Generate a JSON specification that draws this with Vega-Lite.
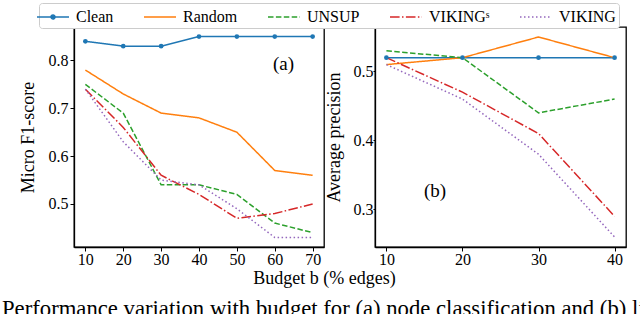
{
  "$schema": "https://vega.github.io/schema/vega-lite/v6.json",
  "padding": {"left": 2, "top": 2, "right": 0, "bottom": 0},
  "datasets": {
    "perf": [
      {"panel": "a", "b": 10, "method": "Clean", "v": 0.84},
      {"panel": "a", "b": 20, "method": "Clean", "v": 0.83},
      {"panel": "a", "b": 30, "method": "Clean", "v": 0.83},
      {"panel": "a", "b": 40, "method": "Clean", "v": 0.85},
      {"panel": "a", "b": 50, "method": "Clean", "v": 0.85},
      {"panel": "a", "b": 60, "method": "Clean", "v": 0.85},
      {"panel": "a", "b": 70, "method": "Clean", "v": 0.85},
      {"panel": "a", "b": 10, "method": "Random", "v": 0.78},
      {"panel": "a", "b": 20, "method": "Random", "v": 0.73},
      {"panel": "a", "b": 30, "method": "Random", "v": 0.69},
      {"panel": "a", "b": 40, "method": "Random", "v": 0.68},
      {"panel": "a", "b": 50, "method": "Random", "v": 0.65},
      {"panel": "a", "b": 60, "method": "Random", "v": 0.57},
      {"panel": "a", "b": 70, "method": "Random", "v": 0.56},
      {"panel": "a", "b": 10, "method": "UNSUP", "v": 0.75},
      {"panel": "a", "b": 20, "method": "UNSUP", "v": 0.69},
      {"panel": "a", "b": 30, "method": "UNSUP", "v": 0.54},
      {"panel": "a", "b": 40, "method": "UNSUP", "v": 0.54},
      {"panel": "a", "b": 50, "method": "UNSUP", "v": 0.52},
      {"panel": "a", "b": 60, "method": "UNSUP", "v": 0.46},
      {"panel": "a", "b": 70, "method": "UNSUP", "v": 0.44},
      {"panel": "a", "b": 10, "method": "VIKINGˢ", "v": 0.74},
      {"panel": "a", "b": 20, "method": "VIKINGˢ", "v": 0.66},
      {"panel": "a", "b": 30, "method": "VIKINGˢ", "v": 0.56},
      {"panel": "a", "b": 40, "method": "VIKINGˢ", "v": 0.52},
      {"panel": "a", "b": 50, "method": "VIKINGˢ", "v": 0.47},
      {"panel": "a", "b": 60, "method": "VIKINGˢ", "v": 0.48},
      {"panel": "a", "b": 70, "method": "VIKINGˢ", "v": 0.50},
      {"panel": "a", "b": 10, "method": "VIKING", "v": 0.74},
      {"panel": "a", "b": 20, "method": "VIKING", "v": 0.63},
      {"panel": "a", "b": 30, "method": "VIKING", "v": 0.55},
      {"panel": "a", "b": 40, "method": "VIKING", "v": 0.54},
      {"panel": "a", "b": 50, "method": "VIKING", "v": 0.49},
      {"panel": "a", "b": 60, "method": "VIKING", "v": 0.43},
      {"panel": "a", "b": 70, "method": "VIKING", "v": 0.43},
      {"panel": "b", "b": 10, "method": "Clean", "v": 0.52},
      {"panel": "b", "b": 20, "method": "Clean", "v": 0.52},
      {"panel": "b", "b": 30, "method": "Clean", "v": 0.52},
      {"panel": "b", "b": 40, "method": "Clean", "v": 0.52},
      {"panel": "b", "b": 10, "method": "Random", "v": 0.51},
      {"panel": "b", "b": 20, "method": "Random", "v": 0.52},
      {"panel": "b", "b": 30, "method": "Random", "v": 0.55},
      {"panel": "b", "b": 40, "method": "Random", "v": 0.52},
      {"panel": "b", "b": 10, "method": "UNSUP", "v": 0.53},
      {"panel": "b", "b": 20, "method": "UNSUP", "v": 0.52},
      {"panel": "b", "b": 30, "method": "UNSUP", "v": 0.44},
      {"panel": "b", "b": 40, "method": "UNSUP", "v": 0.46},
      {"panel": "b", "b": 10, "method": "VIKINGˢ", "v": 0.52},
      {"panel": "b", "b": 20, "method": "VIKINGˢ", "v": 0.47},
      {"panel": "b", "b": 30, "method": "VIKINGˢ", "v": 0.41},
      {"panel": "b", "b": 40, "method": "VIKINGˢ", "v": 0.29},
      {"panel": "b", "b": 10, "method": "VIKING", "v": 0.51},
      {"panel": "b", "b": 20, "method": "VIKING", "v": 0.46},
      {"panel": "b", "b": 30, "method": "VIKING", "v": 0.38},
      {"panel": "b", "b": 40, "method": "VIKING", "v": 0.26}
    ],
    "labels": [
      {"panel": "a", "b": 62.3, "v": 0.793, "label": "(a)"},
      {"panel": "b", "b": 16.4, "v": 0.326, "label": "(b)"}
    ]
  },
  "title": {
    "text": "Performance variation with budget for (a) node classification and (b) link prediction.",
    "orient": "bottom",
    "anchor": "start",
    "frame": "group",
    "font": "Liberation Serif",
    "fontSize": 22.7,
    "fontWeight": "normal",
    "color": "black",
    "offset": 10,
    "dx": -72
  },
  "spacing": 51,
  "bounds": "flush",
  "hconcat": [
    {
      "width": 250,
      "height": 220,
      "layer": [
        {
          "data": {"name": "perf"},
          "transform": [{"filter": "datum.panel === 'a'"}],
          "mark": {"type": "line", "strokeWidth": 1.5},
          "encoding": {
            "x": {"field": "b", "type": "quantitative", "scale": {"domain": [7, 73], "nice": false, "zero": false},
                  "axis": {"values": [10, 20, 30, 40, 50, 60, 70], "title": "Budget b (% edges)", "titleX": 250, "titleAlign": "center", "titlePadding": 2, "labelPadding": 0}},
            "y": {"field": "v", "type": "quantitative", "scale": {"domain": [0.41, 0.87], "nice": false, "zero": false},
                  "axis": {"values": [0.5, 0.6, 0.7, 0.8], "format": ".1f", "title": "Micro F1-score", "titlePadding": 11}},
            "color": {"field": "method", "type": "nominal", "title": null,
                      "scale": {"domain": ["Clean", "Random", "UNSUP", "VIKINGˢ", "VIKING"], "range": ["#1f77b4", "#ff7f0e", "#2ca02c", "#d62728", "#9467bd"]}},
            "strokeDash": {"field": "method", "type": "nominal", "title": null,
                           "scale": {"domain": ["Clean", "Random", "UNSUP", "VIKINGˢ", "VIKING"], "range": [[1, 0], [1, 0], [5.5, 2.4], [9.6, 2.4, 1.5, 2.4], [1.5, 2.5]]}}
          }
        },
        {
          "data": {"name": "perf"},
          "transform": [{"filter": "datum.panel === 'a' && datum.method === 'Clean'"}],
          "mark": {"type": "circle", "size": 22, "opacity": 1, "color": "#1f77b4"},
          "encoding": {
            "x": {"field": "b", "type": "quantitative"},
            "y": {"field": "v", "type": "quantitative"}
          }
        },
        {
          "data": {"name": "perf"},
          "transform": [{"filter": "false"}],
          "mark": {"type": "point", "filled": true, "opacity": 1, "strokeWidth": 1.5},
          "encoding": {
            "x": {"field": "b", "type": "quantitative"},
            "y": {"field": "v", "type": "quantitative"},
            "color": {"field": "method", "type": "nominal", "title": null},
            "shape": {"field": "method", "type": "nominal", "title": null,
                      "scale": {"domain": ["Clean", "Random", "UNSUP", "VIKINGˢ", "VIKING"],
                                "range": ["M-1.6,0L1.6,0M-0.2,0A0.2,0.2 0 1,0 0.2,0A0.2,0.2 0 1,0 -0.2,0Z", "M-1.6,0L1.6,0", "M-1.6,0L1.6,0", "M-1.6,0L1.6,0", "M-1.6,0L1.6,0"]}},
            "strokeDash": {"field": "method", "type": "nominal", "title": null}
          }
        },
        {
          "data": {"name": "labels"},
          "transform": [{"filter": "datum.panel === 'a'"}],
          "mark": {"type": "text", "fontSize": 19, "font": "Liberation Serif", "color": "black"},
          "encoding": {
            "x": {"field": "b", "type": "quantitative"},
            "y": {"field": "v", "type": "quantitative"},
            "text": {"field": "label"}
          }
        }
      ]
    },
    {
      "width": 251,
      "height": 220,
      "layer": [
        {
          "data": {"name": "perf"},
          "transform": [{"filter": "datum.panel === 'b'"}],
          "mark": {"type": "line", "strokeWidth": 1.5},
          "encoding": {
            "x": {"field": "b", "type": "quantitative", "scale": {"domain": [8.5, 41.5], "nice": false, "zero": false},
                  "axis": {"values": [10, 20, 30, 40], "title": null, "labelPadding": 0}},
            "y": {"field": "v", "type": "quantitative", "scale": {"domain": [0.2455, 0.5645], "nice": false, "zero": false},
                  "axis": {"values": [0.3, 0.4, 0.5], "format": ".1f", "title": "Average precision", "labelPadding": 0, "tickSize": 2, "titlePadding": 10}},
            "color": {"field": "method", "type": "nominal", "title": null},
            "strokeDash": {"field": "method", "type": "nominal", "title": null}
          }
        },
        {
          "data": {"name": "perf"},
          "transform": [{"filter": "datum.panel === 'b' && datum.method === 'Clean'"}],
          "mark": {"type": "circle", "size": 22, "opacity": 1, "color": "#1f77b4"},
          "encoding": {
            "x": {"field": "b", "type": "quantitative"},
            "y": {"field": "v", "type": "quantitative"}
          }
        },
        {
          "data": {"name": "labels"},
          "transform": [{"filter": "datum.panel === 'b'"}],
          "mark": {"type": "text", "fontSize": 19, "font": "Liberation Serif", "color": "black"},
          "encoding": {
            "x": {"field": "b", "type": "quantitative"},
            "y": {"field": "v", "type": "quantitative"},
            "text": {"field": "label"}
          }
        }
      ]
    }
  ],
  "config": {
    "font": "Liberation Serif",
    "view": {"stroke": "black", "strokeWidth": 1.3},
    "axis": {
      "grid": false,
      "domainColor": "black",
      "domainWidth": 1.3,
      "tickColor": "black",
      "tickSize": 4,
      "tickWidth": 1,
      "labelFont": "Liberation Serif",
      "labelFontSize": 16,
      "labelColor": "black",
      "labelPadding": 2,
      "titleFont": "Liberation Serif",
      "titleFontSize": 18,
      "titleFontWeight": "normal",
      "titleColor": "black"
    },
    "legend": {
      "orient": "none",
      "legendX": -35,
      "legendY": -24,
      "direction": "horizontal",
      "columns": 5,
      "columnPadding": 27,
      "labelFont": "Liberation Serif",
      "labelFontSize": 16,
      "labelColor": "black",
      "labelOffset": 12,
      "symbolSize": 400,
      "symbolStrokeWidth": 1.5,
      "strokeColor": "#cccccc",
      "cornerRadius": 3,
      "padding": 3,
      "fillColor": "white"
    }
  }
}
